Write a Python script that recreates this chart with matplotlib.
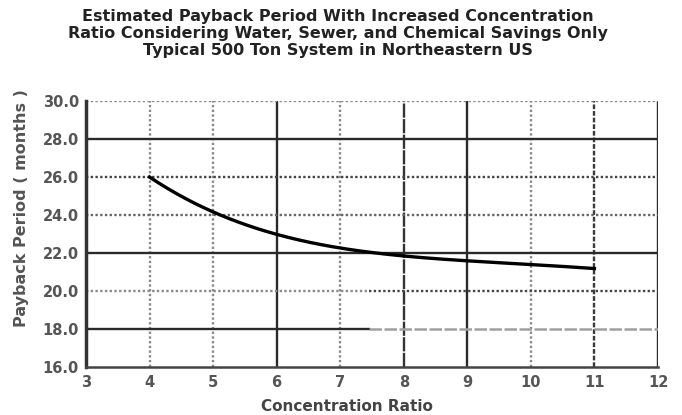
import matplotlib.pyplot as plt
import numpy as np

# Werte
conc_ratio = [4, 5, 6, 7, 8, 9, 10, 11]
payback_months = [26.0, 24.15, 23.0, 22.25, 21.85, 21.58, 21.4, 21.18]

x_ticks = [3, 4, 5, 6, 7, 8, 9, 10, 11, 12]
y_ticks = [16.0, 18.0, 20.0, 22.0, 24.0, 26.0, 28.0, 30.0]

plt.rcParams['font.family'] = ['DejaVu Sans']

fig = plt.figure(figsize=(6.82, 4.15), dpi=100)
ax = fig.add_axes([86/682, 1 - 367/415, (658-86)/682, (367-101)/415])

dark = '#2a2a2a'
grey = '#8a8a8a'
dot = (0, (1, 1))

# Gitter: gemischt durchgezogen / gepunktet wie im Scan
xstyle = {4: (grey, dot), 5: (grey, dot), 6: (dark, '-'), 7: (grey, dot),
          8: ('#333333', (0, (6, 0.6))), 9: (dark, '-'), 10: (grey, dot),
          11: ('#3a3a3a', (0, (2, 0.8))), 12: (dark, '-')}
for xv, (c, ls) in xstyle.items():
    ax.axvline(xv, color=c, lw=1.7, ls=ls, zorder=1)

ystyle = {30.0: (grey, dot), 28.0: (dark, '-'), 26.0: ('#444444', dot),
          24.0: ('#666666', dot), 22.0: (dark, '-')}
for yv, (c, ls) in ystyle.items():
    ax.axhline(yv, color=c, lw=1.7, ls=ls, zorder=1)
# 20 und 18 wechseln bei ca. 7.5 den Stil
ax.plot([3, 7.45], [20, 20], color=grey, lw=1.7, ls=dot, zorder=1)
ax.plot([7.45, 12], [20, 20], color='#444444', lw=1.7, ls=dot, zorder=1)
ax.plot([3, 7.45], [18, 18], color=dark, lw=1.7, zorder=1)
ax.plot([7.45, 12], [18, 18], color='#a0a0a0', lw=1.8, ls=(0, (5, 1)), zorder=1)

# Kurve glatt zeichnen
xs = np.array(conc_ratio, dtype=float)
ys = np.array(payback_months)
xf = np.linspace(xs[0], xs[-1], 200)
coef = np.polyfit(xs, ys, 4)
ax.plot(xf, np.polyval(coef, xf), color='black', lw=2.4, zorder=3)

ax.set_xlim(3, 12)
ax.set_ylim(16, 30)
ax.set_xticks(x_ticks)
ax.set_yticks(y_ticks)
ax.set_yticklabels([f'{v:.1f}' for v in y_ticks])
ax.tick_params(length=0, labelsize=10.5, colors='#555555')
ax.tick_params(axis='x', pad=6)
ax.tick_params(axis='y', pad=5)
for lab in ax.get_xticklabels() + ax.get_yticklabels():
    lab.set_fontweight('bold')
for s in ['top', 'right']:
    ax.spines[s].set_visible(False)
ax.spines['left'].set_color('#333333')
ax.spines['left'].set_linewidth(2.5)
ax.spines['bottom'].set_color('#444444')
ax.spines['bottom'].set_linewidth(1.8)
ax.spines['bottom'].set_linestyle(dot)

fig.text(347/682, 1 - 406/415, 'Concentration Ratio', ha='center', va='center',
         fontsize=11, fontweight='bold', color='#444444')
fig.text(22/682, 1 - 208/415, 'Payback Period ( months )', ha='center', va='center',
         rotation=90, fontsize=11.5, fontweight='bold', color='#555555')

fig.text(338/682, 1 - 9/415, 'Estimated Payback Period With Increased Concentration\n'
         'Ratio Considering Water, Sewer, and Chemical Savings Only\n'
         'Typical 500 Ton System in Northeastern US',
         ha='center', va='top', fontsize=11.5, fontweight='bold', color='#222222', linespacing=1.15)

plt.savefig('out.png', dpi=100)
